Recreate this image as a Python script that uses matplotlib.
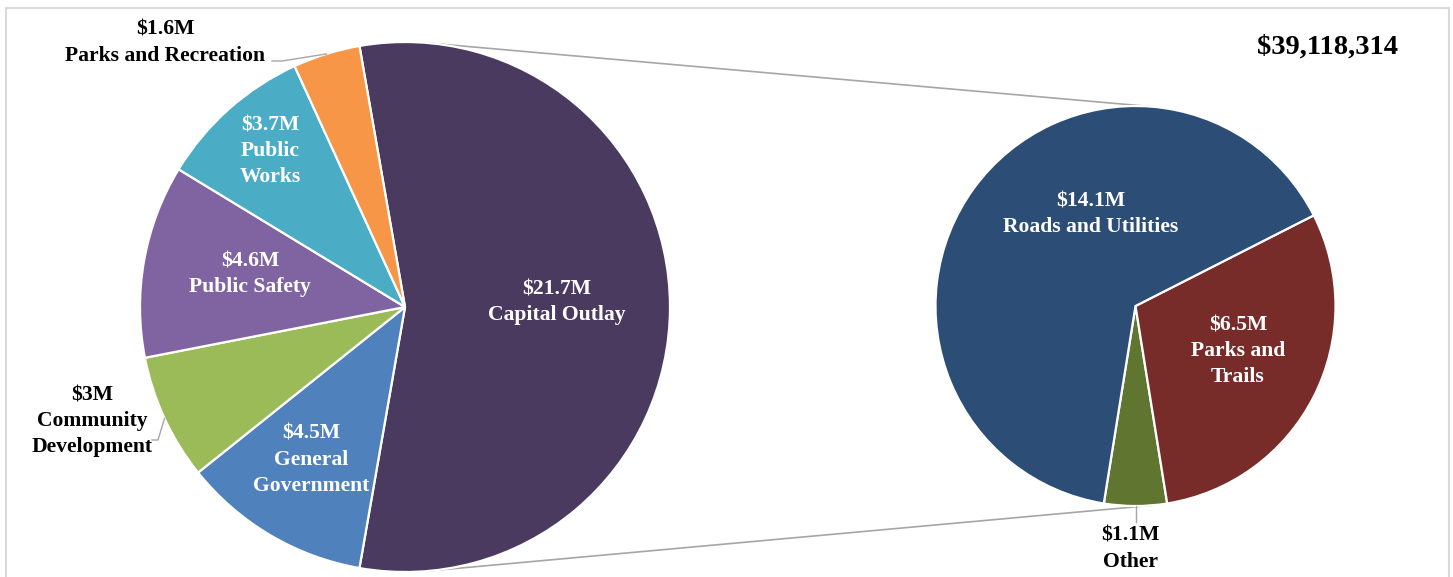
import matplotlib

matplotlib.use("Agg")
import matplotlib.pyplot as plt
import numpy as np
from matplotlib.patches import Rectangle

# main pie (millions), ordered clockwise from the top of Capital Outlay
main_labels = ["Capital Outlay", "General\nGovernment", "Community\nDevelopment", "Public Safety", "Public\nWorks", "Parks and Recreation"]
main_values = [21.7, 4.5, 3.0, 4.6, 3.7, 1.6]
main_text = ["$21.7M", "$4.5M", "$3M", "$4.6M", "$3.7M", "$1.6M"]
main_colors = ["#4b3a5f", "#4f81bd", "#9bbb59", "#8064a2", "#4bacc6", "#f79646"]

# breakdown of Capital Outlay, counter-clockwise from the bottom
sub_labels = ["Other", "Parks and\nTrails", "Roads and Utilities"]
sub_values = [1.1, 6.5, 14.1]
sub_text = ["$1.1M", "$6.5M", "$14.1M"]
sub_colors = ["#5f7530", "#772c2a", "#2c4d75"]

total_label = "$39,118,314"

W, H = 1453, 577
FONT = dict(family="Liberation Serif", weight="bold", fontsize=15.6, ha="center", va="center", linespacing=1.4)


def py(y):
    # pixel row -> data y
    return H - y


fig = plt.figure(figsize=(W / 100, H / 100), dpi=100)
ax = fig.add_axes([0, 0, 1, 1])

c1, r1 = np.array([405.0, py(307)]), 265.0
c2, r2 = np.array([1135.5, py(306)]), 200.0

main_total = sum(main_values)
start1 = 360 * main_values[0] / main_total / 2
ax.pie(main_values, colors=main_colors, startangle=start1, counterclock=False, center=tuple(c1), radius=r1,
       wedgeprops=dict(edgecolor="white", linewidth=1.6))

sub_total = sum(sub_values)
start2 = 270 - 360 * sub_values[0] / sub_total / 2
ax.pie(sub_values, colors=sub_colors, startangle=start2, counterclock=True, center=tuple(c2), radius=r2,
       wedgeprops=dict(edgecolor="white", linewidth=1.6))

ax.set_xlim(0, W)
ax.set_ylim(0, H)
ax.set_aspect("auto")
ax.axis("off")

# connector lines: external tangents of the two circles
d = c2 - c1
dist = np.hypot(*d)
u = d / dist
v = np.array([-u[1], u[0]])
s = (r1 - r2) / dist
for sign in (1, -1):
    n = s * u + sign * np.sqrt(1 - s * s) * v
    p1, p2 = c1 + r1 * n, c2 + r2 * n
    ax.plot([p1[0], p2[0]], [p1[1], p2[1]], color="#a6a6a6", lw=1.2, zorder=0)


def mid_angle(values, i, start, ccw):
    frac = (sum(values[:i]) + values[i] / 2) / sum(values)
    return np.deg2rad(start + (360 if ccw else -360) * frac)


def edge_point(center, radius, ang):
    return center + radius * np.array([np.cos(ang), np.sin(ang)])


# labels inside slices (pixel positions from the reference)
inside_main = {0: (557, 302), 1: (311, 460), 3: (250, 274), 4: (270, 151)}
for i, (x, y) in inside_main.items():
    ax.text(x, py(y), f"{main_text[i]}\n{main_labels[i]}", color="white", **FONT)

inside_sub = {1: (1238, 351), 2: (1091, 214)}
for i, (x, y) in inside_sub.items():
    ax.text(x, py(y), f"{sub_text[i]}\n{sub_labels[i]}", color="white", **FONT)

# outside labels with leader lines
ax.text(165, py(43), f"{main_text[5]}\n{main_labels[5]}", color="black", **FONT)
e = edge_point(c1, r1, mid_angle(main_values, 5, start1, False))
ax.plot([272, 282, e[0]], [py(61), py(61), e[1]], color="#a6a6a6", lw=1)

ax.text(92, py(421), f"{main_text[2]}\n{main_labels[2]}", color="black", **FONT)
e = edge_point(c1, r1, mid_angle(main_values, 2, start1, False))
ax.plot([152, 158, e[0]], [py(440), py(440), e[1]], color="#a6a6a6", lw=1)

ax.text(1130, py(549), f"{sub_text[0]}\n{sub_labels[0]}", color="black", **FONT)
e = edge_point(c2, r2, mid_angle(sub_values, 0, start2, True))
ax.plot([e[0], e[0]], [e[1], py(522)], color="#a6a6a6", lw=1)

ax.text(1328, py(47), total_label, family="Liberation Serif", weight="bold", fontsize=20.5, ha="center", va="center")

# chart frame
ax.add_patch(Rectangle((5.5, -10), 1443, py(7) + 10 - 0.5, fill=False, edgecolor="#d9d9d9", lw=1.5, clip_on=False))

fig.savefig("out.png", dpi=100)
